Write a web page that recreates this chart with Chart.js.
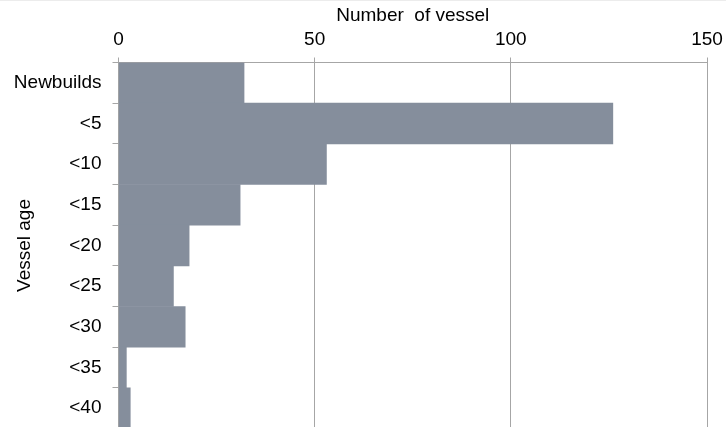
<!DOCTYPE html>
<html>
<head>
<meta charset="utf-8">
<script src="https://cdn.jsdelivr.net/npm/chart.js@4/dist/chart.umd.min.js"></script>
<style>
  html, body { margin: 0; padding: 0; background: #fff; overflow: hidden; }
  #wrap { position: relative; width: 726px; height: 427px; overflow: hidden; border-top: 1px solid #ececec; box-sizing: border-box; }
  #ageChart { position: absolute; left: 0; top: -1px; }
</style>
</head>
<body>
<div id="wrap">
  <canvas id="ageChart" width="726" height="430"></canvas>
</div>
<script>
// Fleet age profile
const ageGroups = ['Newbuilds', '<5', '<10', '<15', '<20', '<25', '<30', '<35', '<40'];
const vesselCounts = [32, 126, 53, 31, 18, 14, 17, 2, 3];
const countTicks = [0, 50, 100, 150];

const FONT = "'Liberation Sans', Arial, sans-serif";
const AXIS_GREY = '#a6a6a6';

const ctx = document.getElementById('ageChart').getContext('2d');

new Chart(ctx, {
  type: 'bar',
  data: {
    labels: ageGroups,
    datasets: [{
      label: 'Number of vessel',
      data: vesselCounts,
      backgroundColor: '#858e9c',
      borderWidth: 0,
      barPercentage: 1,
      categoryPercentage: 1
    }]
  },
  options: {
    indexAxis: 'y',
    responsive: false,
    animation: false,
    devicePixelRatio: 1,
    layout: { padding: { left: 0, right: 19, top: 0, bottom: 1.5 } },
    plugins: {
      legend: { display: false },
      tooltip: { enabled: false }
    },
    scales: {
      x: {
        position: 'top',
        min: 0,
        max: 150,
        afterBuildTicks: scale => {
          scale.ticks = countTicks.map(v => ({ value: v }));
        },
        afterFit: scale => {
          // fixed band for the top axis; end labels may hang into the padding
          scale.height = 62.5;
          scale.paddingLeft = 0;
          scale.paddingRight = 0;
        },
        ticks: {
          color: '#000',
          padding: 6,
          maxRotation: 0,
          font: { family: FONT, size: 19 }
        },
        grid: {
          color: AXIS_GREY,
          lineWidth: 1,
          tickLength: 5,
          drawTicks: true
        },
        border: { display: true, color: AXIS_GREY, width: 1 },
        title: {
          display: true,
          text: 'Number  of vessel',
          color: '#000',
          padding: { top: 4, bottom: 0 },
          font: { family: FONT, size: 19 }
        }
      },
      y: {
        afterFit: scale => {
          scale.width = 118.5;
          scale.paddingTop = 0;
          scale.paddingBottom = 0;
        },
        ticks: {
          color: '#000',
          padding: 11,
          font: { family: FONT, size: 19 }
        },
        grid: {
          offset: true,
          drawOnChartArea: false,
          drawTicks: true,
          tickLength: 6,
          color: AXIS_GREY
        },
        border: { display: true, color: AXIS_GREY, width: 1 },
        title: {
          display: true,
          text: 'Vessel age',
          color: '#000',
          padding: { top: 13, bottom: 0 },
          font: { family: FONT, size: 19 }
        }
      }
    }
  }
});
</script>
</body>
</html>
